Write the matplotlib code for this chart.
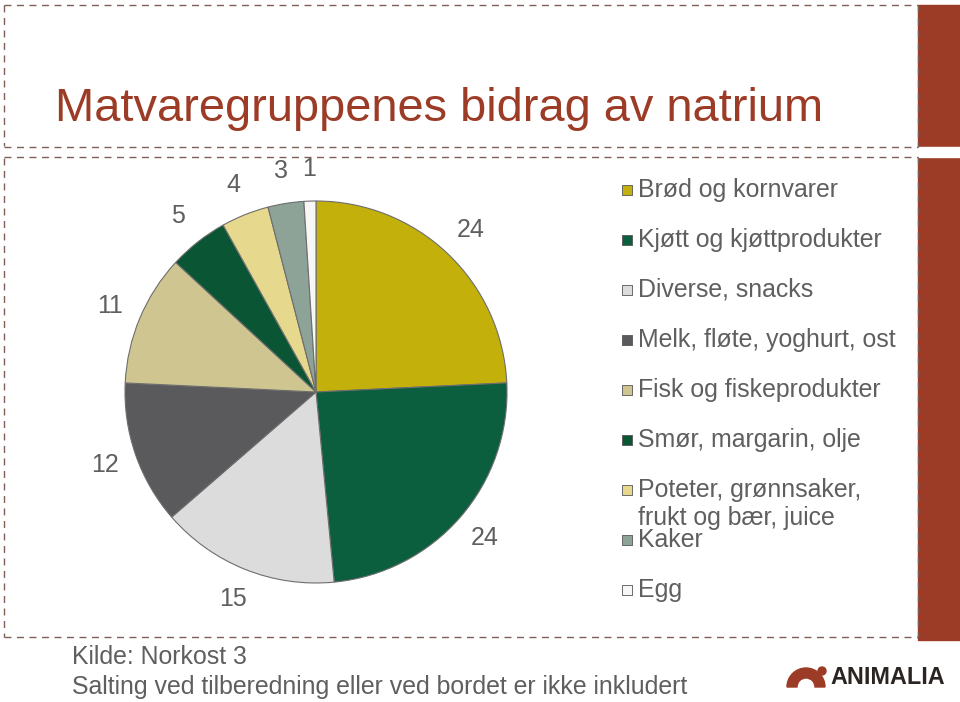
import matplotlib
matplotlib.use("Agg")
import matplotlib.pyplot as plt
from matplotlib.patches import Rectangle, Wedge, Circle

plt.rcParams['font.family'] = ['Liberation Sans', 'DejaVu Sans']

# ---------- Data ----------
title = "Matvaregruppenes bidrag av natrium"
categories = [
    "Brød og kornvarer",
    "Kjøtt og kjøttprodukter",
    "Diverse, snacks",
    "Melk, fløte, yoghurt, ost",
    "Fisk og fiskeprodukter",
    "Smør, margarin, olje",
    "Poteter, grønnsaker,\nfrukt og bær, juice",
    "Kaker",
    "Egg",
]
values = [24, 24, 15, 12, 11, 5, 4, 3, 1]
colors = ["#C4B00A", "#0B5E3E", "#DCDCDC", "#5A5A5C", "#CFC590",
          "#0A5533", "#E6D88C", "#8EA398", "#F7F7F7"]
source_lines = ["Kilde: Norkost 3",
                "Salting ved tilberedning eller ved bordet er ikke inkludert"]

W, H = 960, 702
RED = "#9C3B26"
DASH = "#7E5E55"
GREY = "#5F5F5F"


def Y(y):
    # pixel row (from top) -> axes y
    return H - y


fig = plt.figure(figsize=(W / 100, H / 100), dpi=100)
ax = fig.add_axes([0, 0, 1, 1])

# ---------- Pie ----------
total = sum(values)
wedges, _, autotexts = ax.pie(
    values, colors=colors, startangle=90, counterclock=False,
    center=(316, Y(392)), radius=191, frame=True,
    autopct=lambda p: f"{p * total / 100:.0f}", pctdistance=1.17,
    wedgeprops=dict(edgecolor="#6E6E6E", linewidth=0.8),
    textprops=dict(fontsize=18, color=GREY),
)
ax.set_xlim(0, W)
ax.set_ylim(0, H)
ax.axis("off")

# ---------- Slide frame ----------
ax.add_patch(Rectangle((918, Y(640)), W - 918, 640 - 5, color=RED, zorder=0))
ax.add_patch(Rectangle((916, Y(157)), W - 916, 10, color="white", zorder=0.5))
dash = dict(color=DASH, linewidth=1.0, linestyle=(0, (5, 4)), zorder=0.6)
ax.plot([4, 918], [Y(5), Y(5)], **dash)
ax.plot([4, 918], [Y(147), Y(147)], **dash)
ax.plot([4, 918], [Y(157), Y(157)], **dash)
ax.plot([4, 918], [Y(637), Y(637)], **dash)
ax.plot([4, 4], [Y(5), Y(146)], **dash)
ax.plot([4, 4], [Y(158), Y(637)], **dash)
ax.plot([918, 918], [Y(5), Y(147)], **dash)
ax.plot([918, 918], [Y(157), Y(637)], **dash)

# ---------- Title ----------
ax.text(55, Y(121), title, fontsize=33.8, color=RED, va="baseline", ha="left")

# ---------- Legend ----------
for i, (cat, col) in enumerate(zip(categories, colors)):
    ry = 190 + i * 50
    ax.scatter([627], [Y(ry)], s=45, marker="s", color=col,
               edgecolor="#555555", linewidth=0.6, zorder=3)
    for j, line in enumerate(cat.split("\n")):
        ax.text(638, Y(ry + j * 28), line, fontsize=17.9, color=GREY,
                va="center", ha="left")

# ---------- Source ----------
for j, line in enumerate(source_lines):
    ax.text(72, Y(657 + j * 30), line, fontsize=17.9, color=GREY,
            va="center", ha="left")

# ---------- Logo ----------
ax.add_patch(Wedge((806, Y(687)), 19, 0, 180, width=10, color=RED))
ax.add_patch(Circle((822, Y(671)), 4, color=RED))
ax.text(830, Y(678), "ANIMALIA", fontsize=16.8, fontweight="bold",
        color="#2B2522", va="center", ha="left")

fig.savefig("out.png", dpi=100)
